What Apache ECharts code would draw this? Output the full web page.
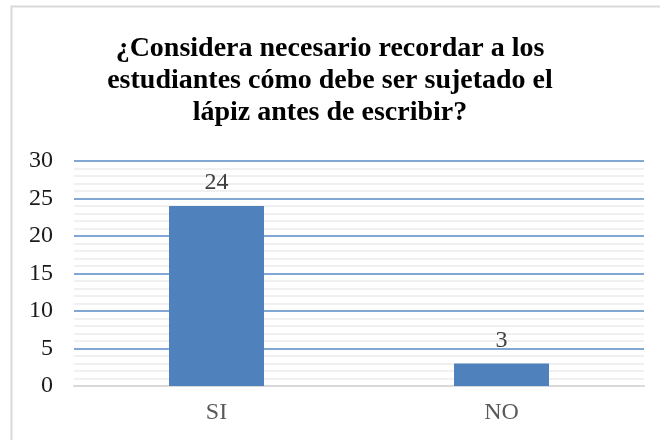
<!DOCTYPE html>
<html lang="es">

<head>
    <meta charset="UTF-8">
    <title>Gráfico</title>
</head>
<style>
    html, body {
        margin: 0;
        padding: 0;
        background: #fff;
    }

    #main {
        width: 660px;
        height: 440px;
    }
</style>

<body>
    <div id="main"></div>
    <script src="https://cdn.jsdelivr.net/npm/echarts@6.0.0/dist/echarts.min.js"></script>
    <script>
        const categories = ['SI', 'NO']
        const values = [24, 3]
        const yTicks = [0, 5, 10, 15, 20, 25, 30]
        const titleText = '¿Considera necesario recordar a los\nestudiantes cómo debe ser sujetado el\nlápiz antes de escribir?'

        const font = '"Liberation Serif", "Times New Roman", serif'
        let chart = echarts.init(document.getElementById('main'))
        let option = {
            animation: false,
            title: {
                text: titleText,
                left: 'center',
                top: 28,
                textStyle: {
                    fontFamily: font,
                    fontWeight: 'bold',
                    fontSize: 28,
                    lineHeight: 32,
                    color: '#000'
                }
            },
            grid: {
                left: 74,
                right: 16,
                top: 161,
                bottom: 54
            },
            xAxis: {
                type: 'category',
                data: categories,
                axisTick: { show: false },
                axisLine: { lineStyle: { color: '#D9D9D9', width: 2 } },
                axisLabel: {
                    fontFamily: font,
                    fontSize: 24,
                    color: '#595959',
                    margin: 15
                }
            },
            yAxis: {
                type: 'value',
                min: yTicks[0],
                max: yTicks[yTicks.length - 1],
                interval: 5,
                axisLine: { show: false },
                axisTick: { show: false },
                axisLabel: {
                    fontFamily: font,
                    fontSize: 24,
                    color: '#1a1a1a',
                    margin: 21
                },
                splitLine: {
                    lineStyle: { color: '#5A8AC6', width: 1.5 }
                },
                minorTick: { show: false, splitNumber: 5 },
                minorSplitLine: {
                    show: true,
                    lineStyle: { color: '#EBEBEB', width: 1.5 }
                }
            },
            series: [{
                type: 'bar',
                data: values,
                barWidth: 95,
                itemStyle: { color: '#4F81BD' },
                label: {
                    show: true,
                    position: 'top',
                    distance: 11,
                    fontFamily: font,
                    fontSize: 24,
                    color: '#404040'
                }
            }],
            graphic: [{
                type: 'rect',
                shape: { x: 11.5, y: 6.5, width: 700, height: 500 },
                style: { fill: 'none', stroke: '#D9D9D9', lineWidth: 2 },
                silent: true
            }]
        }
        chart.setOption(option)
    </script>
</body>

</html>
